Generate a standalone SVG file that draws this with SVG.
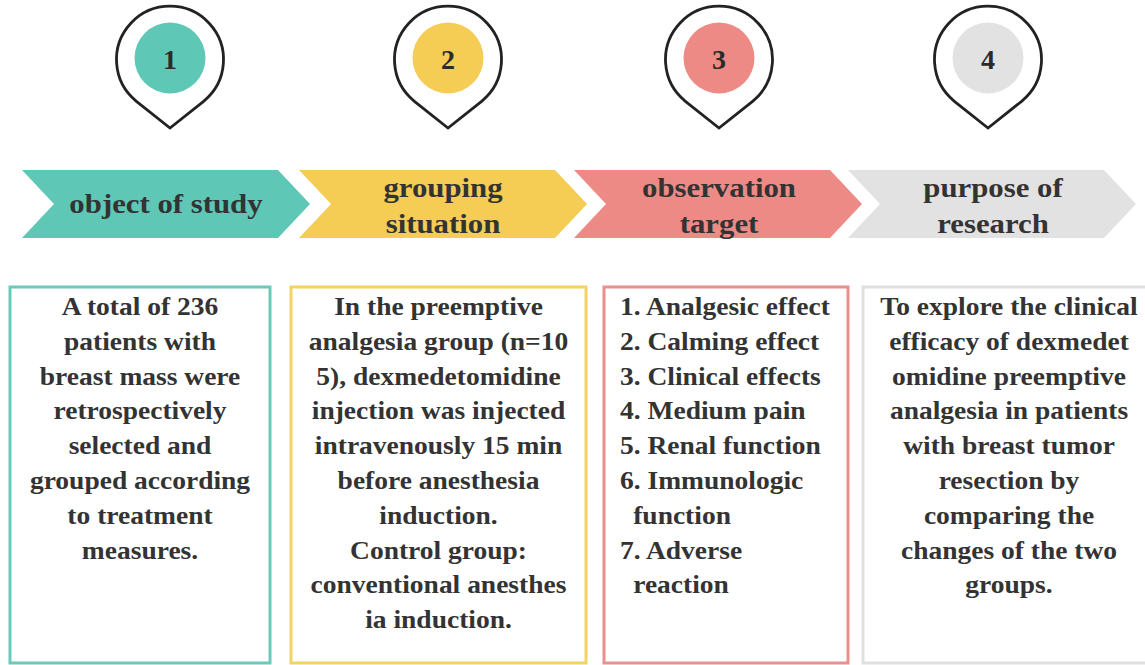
<svg xmlns="http://www.w3.org/2000/svg" width="1145" height="665" viewBox="0 0 1145 665">
  <style>
    .pin { fill: #ffffff; stroke: #222222; stroke-width: 2.8; stroke-linejoin: miter; }
    .num { font-family: "Liberation Serif", "Times New Roman", serif; font-weight: bold; font-size: 28px; fill: #2b2b2b; text-anchor: middle; }
    .head { font-family: "Liberation Serif", "Times New Roman", serif; font-weight: bold; font-size: 28px; fill: #333333; text-anchor: middle; }
    .body { font-family: "Liberation Serif", "Times New Roman", serif; font-weight: bold; font-size: 25px; fill: #333333; text-anchor: middle; }
    .left { text-anchor: start; }
    .box { fill: #ffffff; stroke-width: 3; }
  </style>
  <defs>
    <!-- map pin outline centred on (0,0), tip at (0,69) -->
    <path id="pinShape" d="M -33.6 42.3 A 53.5 53.5 0 1 1 33.6 42.3 L 0 69 Z"/>
  </defs>

  <rect width="1145" height="665" fill="#ffffff"/>

  <!-- step 1 -->
  <g id="step1">
    <use href="#pinShape" class="pin" transform="translate(170 59)"/>
    <circle cx="170" cy="58" r="35.5" fill="#5ec7b6"/>
    <text class="num" x="170" y="69">1</text>
    <path d="M22 170 L278 170 L310 204 L278 238 L22 238 L54 204 Z" fill="#5ec7b6"/>
    <g transform="translate(166 0) scale(1.1 1)">
      <text class="head" x="0" y="213">object of study</text>
    </g>
    <rect class="box" x="10" y="287" width="260" height="376" stroke="#6acbbb"/>
    <g transform="translate(140 0) scale(1.1 1)">
      <text class="body" x="0" y="315">A total of 236</text>
      <text class="body" x="0" y="349.8">patients with</text>
      <text class="body" x="0" y="384.6">breast mass were</text>
      <text class="body" x="0" y="419.4">retrospectively</text>
      <text class="body" x="0" y="454.2">selected and</text>
      <text class="body" x="0" y="489">grouped according</text>
      <text class="body" x="0" y="523.8">to treatment</text>
      <text class="body" x="0" y="558.6">measures.</text>
    </g>
  </g>

  <!-- step 2 -->
  <g id="step2">
    <use href="#pinShape" class="pin" transform="translate(448 59)"/>
    <circle cx="448" cy="58" r="35.5" fill="#f5cd55"/>
    <text class="num" x="448" y="69">2</text>
    <path d="M299 170 L555 170 L587 204 L555 238 L299 238 L331 204 Z" fill="#f5cd55"/>
    <g transform="translate(443 0) scale(1.1 1)">
      <text class="head" x="0" y="197">grouping</text>
      <text class="head" x="0" y="233">situation</text>
    </g>
    <rect class="box" x="291" y="287" width="295" height="376" stroke="#f4d263"/>
    <g transform="translate(438.5 0) scale(1.1 1)">
      <text class="body" x="0" y="315">In the preemptive</text>
      <text class="body" x="0" y="349.8">analgesia group (n=10</text>
      <text class="body" x="0" y="384.6">5), dexmedetomidine</text>
      <text class="body" x="0" y="419.4">injection was injected</text>
      <text class="body" x="0" y="454.2">intravenously 15 min</text>
      <text class="body" x="0" y="489">before anesthesia</text>
      <text class="body" x="0" y="523.8">induction.</text>
      <text class="body" x="0" y="558.6">Control group:</text>
      <text class="body" x="0" y="593.4">conventional anesthes</text>
      <text class="body" x="0" y="628.2">ia induction.</text>
    </g>
  </g>

  <!-- step 3 -->
  <g id="step3">
    <use href="#pinShape" class="pin" transform="translate(719 59)"/>
    <circle cx="719" cy="58" r="35.5" fill="#ee8a86"/>
    <text class="num" x="719" y="69">3</text>
    <path d="M574 170 L830 170 L862 204 L830 238 L574 238 L606 204 Z" fill="#ee8a86"/>
    <g transform="translate(719 0) scale(1.1 1)">
      <text class="head" x="0" y="197">observation</text>
      <text class="head" x="0" y="233">target</text>
    </g>
    <rect class="box" x="604" y="287" width="244" height="376" stroke="#ec8e8c"/>
    <g transform="translate(620 0) scale(1.1 1)">
      <text class="body left" x="0" y="315">1. Analgesic effect</text>
      <text class="body left" x="0" y="349.8">2. Calming effect</text>
      <text class="body left" x="0" y="384.6">3. Clinical effects</text>
      <text class="body left" x="0" y="419.4">4. Medium pain</text>
      <text class="body left" x="0" y="454.2">5. Renal function</text>
      <text class="body left" x="0" y="489">6. Immunologic</text>
      <text class="body left" x="12" y="523.8">function</text>
      <text class="body left" x="0" y="558.6">7. Adverse</text>
      <text class="body left" x="12" y="593.4">reaction</text>
    </g>
  </g>

  <!-- step 4 -->
  <g id="step4">
    <use href="#pinShape" class="pin" transform="translate(988 59)"/>
    <circle cx="988" cy="58" r="35.5" fill="#e2e2e2"/>
    <text class="num" x="988" y="69">4</text>
    <path d="M848 170 L1104 170 L1136 204 L1104 238 L848 238 L880 204 Z" fill="#e2e2e2"/>
    <g transform="translate(993 0) scale(1.1 1)">
      <text class="head" x="0" y="197">purpose of</text>
      <text class="head" x="0" y="233">research</text>
    </g>
    <rect class="box" x="863" y="287" width="300" height="376" stroke="#e0e0e0"/>
    <g transform="translate(1009 0) scale(1.1 1)">
      <text class="body" x="0" y="315">To explore the clinical</text>
      <text class="body" x="0" y="349.8">efficacy of dexmedet</text>
      <text class="body" x="0" y="384.6">omidine preemptive</text>
      <text class="body" x="0" y="419.4">analgesia in patients</text>
      <text class="body" x="0" y="454.2">with breast tumor</text>
      <text class="body" x="0" y="489">resection by</text>
      <text class="body" x="0" y="523.8">comparing the</text>
      <text class="body" x="0" y="558.6">changes of the two</text>
      <text class="body" x="0" y="593.4">groups.</text>
    </g>
  </g>

  <!-- no connectors: the chevron band carries the sequence -->
  <g id="connectors"/>
</svg>
